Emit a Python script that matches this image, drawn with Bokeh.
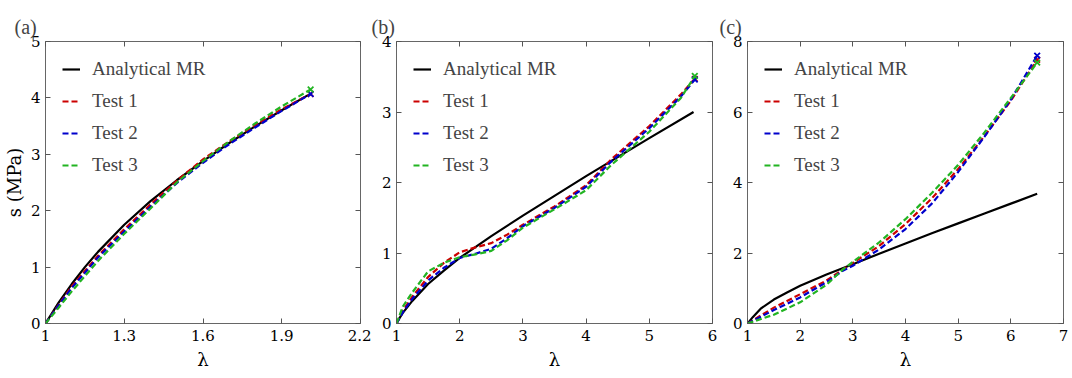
from bokeh.plotting import figure
from bokeh.layouts import row
from bokeh.models import FixedTicker, LinearAxis, Legend, LegendItem, Range1d
from bokeh.embed import file_html
from bokeh.resources import INLINE

# ---------- data ----------
# Panel (a)
a_x_mr = [1.0, 1.05, 1.1, 1.15, 1.2, 1.3, 1.4, 1.5, 1.6, 1.7, 1.8, 1.9, 2.0]
a_y_mr = [0.0, 0.37, 0.70, 1.00, 1.27, 1.75, 2.17, 2.54, 2.88, 3.20, 3.50, 3.78, 4.05]
a_x_t = [1.0, 1.05, 1.1, 1.2, 1.3, 1.4, 1.5, 1.6, 1.7, 1.8, 1.9, 2.01]
a_y_t1 = [0.0, 0.33, 0.66, 1.20, 1.67, 2.11, 2.53, 2.91, 3.23, 3.52, 3.80, 4.07]
a_y_t2 = [0.0, 0.32, 0.63, 1.17, 1.63, 2.07, 2.49, 2.85, 3.18, 3.48, 3.77, 4.07]
a_y_t3 = [0.0, 0.28, 0.57, 1.11, 1.59, 2.04, 2.50, 2.88, 3.23, 3.55, 3.85, 4.15]

# Panel (b)
b_x_mr = [1.0, 1.05, 1.1, 1.25, 1.5, 1.75, 2.0, 2.5, 3.0, 3.5, 4.0, 4.5, 5.0, 5.7]
b_y_mr = [0.0, 0.08, 0.15, 0.32, 0.56, 0.75, 0.93, 1.24, 1.53, 1.81, 2.09, 2.36, 2.63, 3.0]
b_x_t = [1.0, 1.1, 1.25, 1.5, 1.75, 2.0, 2.25, 2.5, 2.75, 3.0, 3.5, 4.0, 4.4, 5.0, 5.5, 5.72]
b_y_t1 = [0.0, 0.18, 0.38, 0.66, 0.86, 1.01, 1.08, 1.14, 1.26, 1.40, 1.66, 1.96, 2.33, 2.80, 3.25, 3.47]
b_y_t2 = [0.0, 0.16, 0.35, 0.61, 0.79, 0.93, 0.99, 1.06, 1.21, 1.38, 1.64, 1.94, 2.30, 2.77, 3.22, 3.46]
b_y_t3 = [0.0, 0.24, 0.44, 0.74, 0.86, 0.94, 0.98, 1.03, 1.18, 1.36, 1.62, 1.89, 2.25, 2.72, 3.20, 3.51]

# Panel (c)
c_x_mr = [1.0, 1.1, 1.25, 1.5, 1.75, 2.0, 2.5, 3.0, 3.5, 4.0, 4.5, 5.0, 5.5, 6.0, 6.5]
c_y_mr = [0.0, 0.18, 0.42, 0.68, 0.88, 1.07, 1.39, 1.68, 1.98, 2.27, 2.56, 2.84, 3.12, 3.40, 3.68]
c_x_t = [1.0, 1.5, 2.0, 2.5, 2.8, 3.0, 3.5, 4.0, 4.5, 5.0, 5.5, 6.0, 6.5]
c_y_t1 = [0.0, 0.45, 0.83, 1.22, 1.52, 1.72, 2.20, 2.82, 3.55, 4.38, 5.32, 6.32, 7.48]
c_y_t2 = [0.0, 0.38, 0.74, 1.17, 1.49, 1.64, 2.10, 2.68, 3.40, 4.30, 5.30, 6.35, 7.60]
c_y_t3 = [0.0, 0.25, 0.60, 1.10, 1.52, 1.75, 2.30, 2.96, 3.70, 4.50, 5.42, 6.40, 7.40]

a_xticks = [1, 1.3, 1.6, 1.9, 2.2]
a_yticks = [0, 1, 2, 3, 4, 5]
b_xticks = [1, 2, 3, 4, 5, 6]
b_yticks = [0, 1, 2, 3, 4]
c_xticks = [1, 2, 3, 4, 5, 6, 7]
c_yticks = [0, 2, 4, 6, 8]

series_names = ["Analytical MR", "Test 1", "Test 2", "Test 3"]
COLORS = ["black", "#cc0000", "#0000cc", "#22b422"]
FONT = "'Liberation Serif', serif"
AXFONT = "DejaVu Serif"


def make_panel(tag, xr, yr, xticks, yticks, x_mr, y_mr, x_t, ys, width, bl, br, toff, ylabel):
    p = figure(width=width, height=378, output_backend="svg", toolbar_location=None,
               x_range=Range1d(*xr), y_range=Range1d(*yr),
               min_border_left=bl, min_border_right=br, min_border_top=41, min_border_bottom=55)
    p.xgrid.visible = False
    p.ygrid.visible = False
    p.outline_line_color = "#666666"
    p.outline_line_width = 1
    p.background_fill_color = "white"
    p.border_fill_color = "white"

    p.title.text = tag
    p.title.align = "left"
    p.title.offset = toff
    p.title.text_font = FONT
    p.title.text_font_size = "20px"
    p.title.text_font_style = "normal"
    p.title.standoff = 8

    p.xaxis.ticker = FixedTicker(ticks=xticks)
    p.yaxis.ticker = FixedTicker(ticks=yticks)
    p.xaxis.major_label_overrides = {t: ("%g" % t) for t in xticks}
    p.xaxis.major_label_standoff = 6
    p.yaxis.major_label_standoff = 5
    p.xaxis.axis_label = "λ"
    p.xaxis.axis_label_standoff = 5
    if ylabel:
        p.yaxis.axis_label = ylabel
        p.yaxis.axis_label_standoff = 3

    for loc, ticks in (("above", xticks), ("right", yticks)):
        ax = LinearAxis(ticker=FixedTicker(ticks=ticks))
        ax.major_label_text_color = None
        ax.major_label_text_font_size = "1px"
        ax.major_label_standoff = 0
        p.add_layout(ax, loc)

    for axes in (p.xaxis, p.yaxis):
        axes.major_tick_in = 5
        axes.major_tick_out = 0
        axes.minor_tick_line_color = None
        axes.axis_line_color = None
        axes.major_tick_line_color = "#555555"
    for axes in (p.below, p.left):
        for ax in axes:
            ax.major_label_text_font = AXFONT
            ax.major_label_text_font_size = "15px"
            ax.major_label_text_color = "black"
            ax.axis_label_text_font = AXFONT
            ax.axis_label_text_font_style = "normal"
            ax.axis_label_text_font_size = "18px"
            ax.axis_label_text_color = "black"

    items = []
    r0 = p.line(x_mr, y_mr, line_color=COLORS[0], line_width=2.2)
    items.append(LegendItem(label=series_names[0], renderers=[r0]))
    for i, y in enumerate(ys):
        c = COLORS[i + 1]
        r = p.line(x_t, y, line_color=c, line_width=2.2, line_dash="6 3")
        p.scatter([x_t[-1]], [y[-1]], marker="x", size=8, line_color=c, line_width=1.8)
        items.append(LegendItem(label=series_names[i + 1], renderers=[r]))

    leg = Legend(items=items, location="top_left")
    leg.border_line_color = None
    leg.background_fill_alpha = 0
    leg.label_text_font = FONT
    leg.label_text_font_size = "19px"
    leg.glyph_width = 18
    leg.label_standoff = 12
    leg.label_height = 22
    leg.glyph_height = 22
    leg.spacing = 10
    leg.margin = 17
    leg.padding = 12
    p.add_layout(leg, "center")
    return p


pa = make_panel("(a)", (1, 2.2), (0, 5), a_xticks, a_yticks, a_x_mr, a_y_mr, a_x_t,
                [a_y_t1, a_y_t2, a_y_t3], 371, 45, 11, -31, "s (MPa)")
pb = make_panel("(b)", (1, 6), (0, 4), b_xticks, b_yticks, b_x_mr, b_y_mr, b_x_t,
                [b_y_t1, b_y_t2, b_y_t3], 346, 25, 5, -25, None)
pc = make_panel("(c)", (1, 7), (0, 8), c_xticks, c_yticks, c_x_mr, c_y_mr, c_x_t,
                [c_y_t1, c_y_t2, c_y_t3], 355, 30, 9, -28, None)

layout = row(pa, pb, pc, spacing=0)
open("out.html", "w").write(file_html(layout, INLINE))
